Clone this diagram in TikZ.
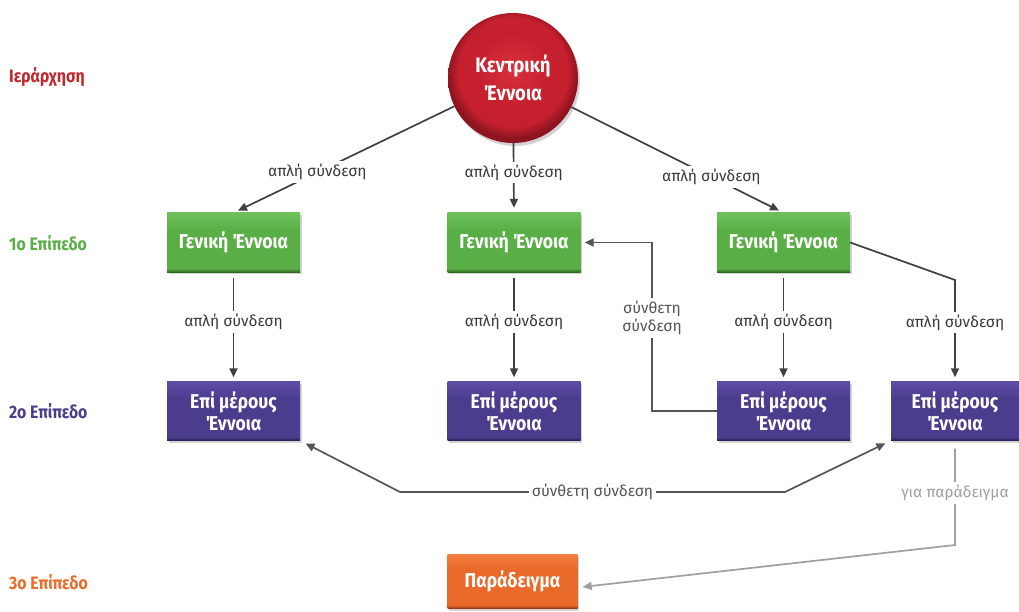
\documentclass[tikz,border=0pt]{standalone}
\usepackage{fontspec}
\setmainfont{Fira Sans}
\newfontfamily\condfont{Fira Sans}[FakeStretch=0.88]
\usetikzlibrary{arrows.meta,shadows,calc}
\definecolor{gL}{HTML}{6DC05A}\definecolor{gM}{HTML}{5AAE46}\definecolor{gD}{HTML}{2C6A22}
\definecolor{pL}{HTML}{5D4CA3}\definecolor{pM}{HTML}{4C3C8E}\definecolor{pD}{HTML}{271C50}
\definecolor{oL}{HTML}{F27D3E}\definecolor{oM}{HTML}{E8692A}\definecolor{oD}{HTML}{8A3410}
\definecolor{rL}{HTML}{D8313E}\definecolor{rM}{HTML}{C6202E}\definecolor{rD}{HTML}{8E1420}
\definecolor{lR}{HTML}{C1272D}\definecolor{lG}{HTML}{5AAE46}\definecolor{lP}{HTML}{4B3F8C}\definecolor{lO}{HTML}{E86C2A}
\definecolor{lnk}{HTML}{404040}\definecolor{clnk}{HTML}{555555}\definecolor{exl}{HTML}{A0A0A0}
\pgfdeclareverticalshading{gshade}{100bp}{color(0bp)=(gD); color(25bp)=(gD); color(28bp)=(gM); color(60bp)=(gM); color(75bp)=(gL); color(100bp)=(gL)}
\pgfdeclareverticalshading{pshade}{100bp}{color(0bp)=(pD); color(25bp)=(pD); color(28bp)=(pM); color(60bp)=(pM); color(75bp)=(pL); color(100bp)=(pL)}
\pgfdeclareverticalshading{oshade}{100bp}{color(0bp)=(oD); color(25bp)=(oD); color(28bp)=(oM); color(60bp)=(oM); color(75bp)=(oL); color(100bp)=(oL)}
\pgfdeclareradialshading{rshade}{\pgfpoint{0bp}{4bp}}{color(0bp)=(rL); color(14bp)=(rM); color(21bp)=(rM); color(25bp)=(rD); color(50bp)=(rD)}
\begin{document}
\begin{tikzpicture}[x=1pt,y=-1pt,
  box/.style={rectangle, minimum width=133pt, minimum height=59pt, inner sep=0pt,
    text=white, align=center, font=\condfont\bfseries\fontsize{20}{22}\selectfont,
    drop shadow={shadow xshift=1.5pt, shadow yshift=-2pt, opacity=0.35}},
  gbox/.style={box, shading=gshade},
  pbox/.style={box, shading=pshade},
  obox/.style={box, shading=oshade, minimum width=130pt, minimum height=54pt},
  cbox/.style={circle, minimum size=130pt, inner sep=0pt, shading=rshade, text=white,
    align=center, font=\condfont\bfseries\fontsize{21}{28}\selectfont,
    drop shadow={shadow xshift=2pt, shadow yshift=-3pt, opacity=0.35}},
  lvl/.style={anchor=west, inner sep=0pt, font=\condfont\bfseries\fontsize{18}{20}\selectfont},
  link/.style={draw=lnk, line width=1.7pt, -{Triangle[length=9pt,width=8pt]}},
  clink/.style={draw=clnk, line width=1.7pt, -{Triangle[length=9pt,width=8pt]}},
  elink/.style={draw=exl, line width=1.7pt, -{Triangle[length=9pt,width=8pt]}},
  lbl/.style={fill=white, text=lnk!90!black, inner sep=3pt, font=\fontsize{15.5}{18}\selectfont},
  clbl/.style={lbl, text=clnk, align=center},
  elbl/.style={lbl, text=exl}
]
\useasboundingbox (0,0) rectangle (1019,612);
% level labels
\node[lvl, text=lR] (h0) at (9,77) {Ιεράρχηση};
\node[lvl, text=lG] (h1) at (9,243) {1ο Επίπεδο};
\node[lvl, text=lP] (h2) at (9,411) {2ο Επίπεδο};
\node[lvl, text=lO] (h3) at (9,582) {3ο Επίπεδο};
% nodes
\node[cbox] (c) at (513,78) {Κεντρική\\Έννοια};
\node[gbox] (g1) at (233.5,242.5) {Γενική Έννοια};
\node[gbox] (g2) at (514,242.5) {Γενική Έννοια};
\node[gbox] (g3) at (783.5,242.5) {Γενική Έννοια};
\node[pbox] (p1) at (233.5,411) {Επί μέρους\\Έννοια};
\node[pbox] (p2) at (514,411) {Επί μέρους\\Έννοια};
\node[pbox] (p3) at (783.5,411) {Επί μέρους\\Έννοια};
\node[pbox, minimum width=128pt] (p4) at (955,411) {Επί μέρους\\Έννοια};
\node[obox] (o) at (512.5,581.5) {Παράδειγμα};
% helper points
\coordinate (k1) at (955,280);
\coordinate (k2) at (652,411);
\coordinate (k3) at (652,242.5);
\coordinate (k4) at (400,492);
\coordinate (k5) at (785,492);
\coordinate (k6) at (955,545);
% simple links
\draw[link, shorten >=5pt] (c) -- node[lbl, pos=0.62] {απλή σύνδεση} (g1.north);
\draw[link, shorten >=5pt] (c) -- node[lbl, pos=0.42] {απλή σύνδεση} (g2.north);
\draw[link, shorten >=5pt] (c) -- node[lbl, pos=0.66] {απλή σύνδεση} (g3.north);
\draw[link, shorten <=6pt, shorten >=4pt] (g1) -- node[lbl, pos=0.46] {απλή σύνδεση} (p1);
\draw[link, shorten <=6pt, shorten >=4pt] (g2) -- node[lbl, pos=0.46] {απλή σύνδεση} (p2);
\draw[link, shorten <=6pt, shorten >=4pt] (g3) -- node[lbl, pos=0.46] {απλή σύνδεση} (p3);
\draw[link, shorten >=4pt] (g3.east) -- (k1) -- node[lbl, pos=0.42] {απλή σύνδεση} (p4.north);
% composite links
\draw[clink, shorten >=4pt] (p3.west) -- (k2) -- node[clbl, pos=0.55] {σύνθετη\\σύνδεση} (k3) -- (g2.east);
\draw[clink, {Triangle[length=9pt,width=8pt]}-{Triangle[length=9pt,width=8pt]}, shorten <=6pt, shorten >=6pt]
  (p1.south east) -- (k4) -- node[clbl] {σύνθετη σύνδεση} (k5) -- (p4.south west);
% example link
\draw[elink, shorten <=8pt, shorten >=5pt] (p4.south) -- node[elbl, pos=0.5] {για παράδειγμα} (k6) -- ([yshift=-6pt]o.east);
\end{tikzpicture}
\end{document}
